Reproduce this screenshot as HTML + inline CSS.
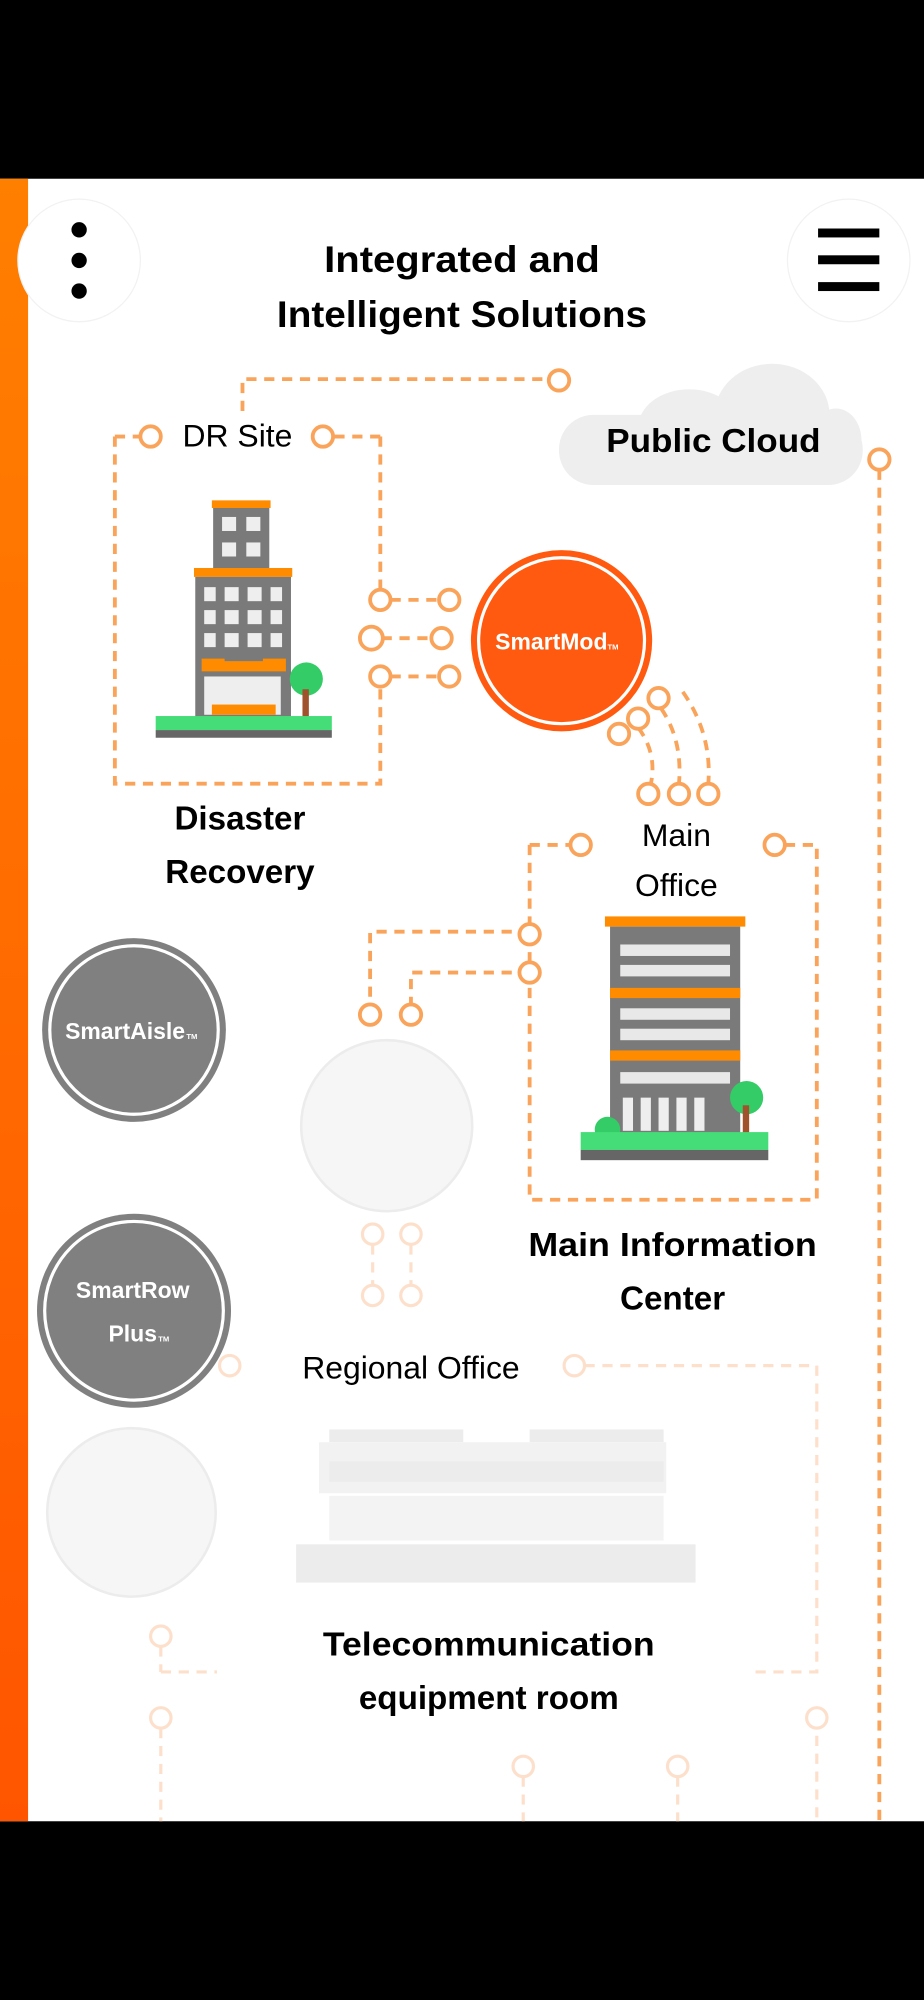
<!DOCTYPE html>
<html><head><meta charset="utf-8"><style>
html,body{margin:0;padding:0;background:#000;}
svg{display:block;}
text{font-family:"Liberation Sans",sans-serif;}
</style></head><body>
<svg width="924" height="2000" viewBox="0 0 724 1567" xmlns="http://www.w3.org/2000/svg">
<defs>
<linearGradient id="og" x1="0" y1="0" x2="0" y2="1"><stop offset="0" stop-color="#ff7f00"/><stop offset="1" stop-color="#ff5500"/></linearGradient>
</defs>
<rect x="0" y="0" width="724" height="1567" fill="#000"/>
<rect x="0" y="140" width="724" height="1287" fill="#fff"/>
<rect x="0" y="140" width="22" height="1287" fill="url(#og)"/>

<circle cx="62" cy="204" r="48" fill="#fff" stroke="#f2f2f2" stroke-width="1"/>
<circle cx="62" cy="180" r="6" fill="#000"/><circle cx="62" cy="204" r="6" fill="#000"/><circle cx="62" cy="228" r="6" fill="#000"/>
<circle cx="665" cy="204" r="48" fill="#fff" stroke="#f2f2f2" stroke-width="1"/>
<rect x="641" y="179" width="48" height="7" fill="#000"/><rect x="641" y="200" width="48" height="7" fill="#000"/><rect x="641" y="221" width="48" height="7" fill="#000"/>
<text x="362" y="213" font-size="29" font-weight="bold" text-anchor="middle" textLength="216" lengthAdjust="spacingAndGlyphs">Integrated and</text>
<text x="362" y="256" font-size="29" font-weight="bold" text-anchor="middle" textLength="290" lengthAdjust="spacingAndGlyphs">Intelligent Solutions</text>

<g fill="#eeeeee">
<ellipse cx="605" cy="325" rx="45" ry="40"/>
<ellipse cx="540" cy="335" rx="40" ry="30"/>
<rect x="438" y="325" width="238" height="55" rx="27"/>
<ellipse cx="655" cy="345" rx="20" ry="25"/>
</g>
<text x="559" y="354" font-size="26" font-weight="bold" text-anchor="middle" textLength="168" lengthAdjust="spacingAndGlyphs">Public Cloud</text>

<g fill="none" stroke="#f9a45a" stroke-width="3" stroke-dasharray="8 6">
<path d="M190 322 V297 H430"/>
<path d="M90 342 H110 M90 342 V614 H298 V536 M298 342 H261 M298 342 V462"/>
<path d="M306 470 H344 M299 500 H338 M306 530 H344"/>
<path d="M689 368 V1427"/>
<path d="M415 662 H447 M415 662 V940 H640 V662 H615"/>
<path d="M415 730 H290 V787 M415 762 H322 V787"/>
<path d="M500 570 Q515 590 510 614 M518 555 Q535 580 532 614 M535 542 Q558 575 555 614"/>
</g>
<g fill="#fff" stroke="#f9a45a" stroke-width="3">
<circle cx="438" cy="298" r="8"/><circle cx="118" cy="342" r="8"/><circle cx="253" cy="342" r="8"/>
<circle cx="298" cy="470" r="8"/><circle cx="291" cy="500" r="9"/><circle cx="298" cy="530" r="8"/>
<circle cx="352" cy="470" r="8"/><circle cx="346" cy="500" r="8"/><circle cx="352" cy="530" r="8"/>
<circle cx="689" cy="360" r="8"/>
<circle cx="455" cy="662" r="8"/><circle cx="607" cy="662" r="8"/>
<circle cx="415" cy="732" r="8"/><circle cx="415" cy="762" r="8"/>
<circle cx="290" cy="795" r="8"/><circle cx="322" cy="795" r="8"/>
<circle cx="516" cy="547" r="8"/><circle cx="500" cy="563" r="8"/><circle cx="485" cy="575" r="8"/>
<circle cx="508" cy="622" r="8"/><circle cx="532" cy="622" r="8"/><circle cx="555" cy="622" r="8"/>
</g>
<text x="143" y="350" font-size="25">DR Site</text>
<text x="530" y="663" font-size="25" text-anchor="middle">Main</text>
<text x="530" y="702" font-size="25" text-anchor="middle">Office</text>

<g>
<rect x="166" y="392" width="46" height="6" fill="#ff8c00"/>
<rect x="167" y="398" width="44" height="50" fill="#7a7a7a"/>
<g fill="#eee"><rect x="174" y="405" width="11" height="11"/><rect x="193" y="405" width="11" height="11"/><rect x="174" y="425" width="11" height="11"/><rect x="193" y="425" width="11" height="11"/></g>
<rect x="152" y="445" width="77" height="7" fill="#ff8c00"/>
<rect x="153" y="452" width="75" height="112" fill="#7a7a7a"/>
<g fill="#eee">
<rect x="160" y="460" width="9" height="11"/><rect x="176" y="460" width="11" height="11"/><rect x="194" y="460" width="11" height="11"/><rect x="212" y="460" width="9" height="11"/>
<rect x="160" y="478" width="9" height="11"/><rect x="176" y="478" width="11" height="11"/><rect x="194" y="478" width="11" height="11"/><rect x="212" y="478" width="9" height="11"/>
<rect x="160" y="496" width="9" height="11"/><rect x="176" y="496" width="11" height="11"/><rect x="194" y="496" width="11" height="11"/><rect x="212" y="496" width="9" height="11"/>
<rect x="160" y="530" width="60" height="30"/>
</g>
<rect x="158" y="516" width="66" height="10" fill="#ff8c00"/>
<rect x="176" y="510" width="30" height="8" fill="#7a7a7a"/>
<rect x="166" y="552" width="50" height="8" fill="#ff8c00"/>
<circle cx="240" cy="532" r="13" fill="#33cc66"/>
<rect x="237" y="540" width="5" height="22" fill="#a0522d"/>
<rect x="122" y="561" width="138" height="11" fill="#44dd77"/>
<rect x="122" y="572" width="138" height="6" fill="#666"/>
</g>
<text x="188" y="650" font-size="26" font-weight="bold" text-anchor="middle">Disaster</text>
<text x="188" y="692" font-size="26" font-weight="bold" text-anchor="middle">Recovery</text>

<circle cx="440" cy="502" r="71" fill="#ff5a10"/>
<circle cx="440" cy="502" r="65" fill="none" stroke="#fff" stroke-width="2.5"/>
<text x="432" y="509" font-size="18" font-weight="bold" fill="#fff" text-anchor="middle">SmartMod</text>
<text x="476" y="509" font-size="6" font-weight="bold" fill="#fff">TM</text>

<g>
<rect x="474" y="718" width="110" height="8" fill="#ff8c00"/>
<rect x="478" y="726" width="102" height="164" fill="#7a7a7a"/>
<g fill="#e8e8e8"><rect x="486" y="740" width="86" height="9"/><rect x="486" y="756" width="86" height="9"/><rect x="486" y="790" width="86" height="9"/><rect x="486" y="806" width="86" height="9"/><rect x="486" y="840" width="86" height="9"/></g>
<rect x="478" y="774" width="102" height="8" fill="#ff8c00"/>
<rect x="478" y="823" width="102" height="8" fill="#ff8c00"/>
<g fill="#eee"><rect x="488" y="860" width="8" height="26"/><rect x="502" y="860" width="8" height="26"/><rect x="516" y="860" width="8" height="26"/><rect x="530" y="860" width="8" height="26"/><rect x="544" y="860" width="8" height="26"/></g>
<circle cx="476" cy="885" r="10" fill="#33cc66"/>
<circle cx="585" cy="860" r="13" fill="#33cc66"/>
<rect x="582" y="866" width="5" height="22" fill="#a0522d"/>
<rect x="455" y="887" width="147" height="14" fill="#44dd77"/>
<rect x="455" y="901" width="147" height="8" fill="#666"/>
</g>
<text x="527" y="984" font-size="26" font-weight="bold" text-anchor="middle" textLength="226" lengthAdjust="spacingAndGlyphs">Main Information</text>
<text x="527" y="1026" font-size="26" font-weight="bold" text-anchor="middle">Center</text>

<circle cx="105" cy="807" r="72" fill="#808080"/>
<circle cx="105" cy="807" r="66" fill="none" stroke="#fff" stroke-width="2.5"/>
<text x="98" y="814" font-size="18" font-weight="bold" fill="#fff" text-anchor="middle">SmartAisle</text>
<text x="146" y="814" font-size="6" font-weight="bold" fill="#fff">TM</text>
<circle cx="105" cy="1027" r="76" fill="#808080"/>
<circle cx="105" cy="1027" r="70" fill="none" stroke="#fff" stroke-width="2.5"/>
<text x="104" y="1017" font-size="18" font-weight="bold" fill="#fff" text-anchor="middle">SmartRow</text>
<text x="104" y="1051" font-size="18" font-weight="bold" fill="#fff" text-anchor="middle">Plus</text>
<text x="124" y="1051" font-size="6" font-weight="bold" fill="#fff">TM</text>

<circle cx="303" cy="882" r="67" fill="#f6f6f6" stroke="#ececec" stroke-width="2"/>
<circle cx="103" cy="1185" r="66" fill="#f6f6f6" stroke="#ececec" stroke-width="2"/>
<g fill="none" stroke="#fde0cc" stroke-width="2.5" stroke-dasharray="8 6">
<path d="M292 975 V1007 M322 975 V1007"/>
<path d="M458 1070 H640 V1310 H590"/>
<path d="M126 1310 H170 M126 1290 V1310"/>
<path d="M126 1354 V1427 M410 1392 V1427 M531 1392 V1427 M640 1360 V1427"/>
</g>
<g fill="#fff" stroke="#fde0cc" stroke-width="2.5">
<circle cx="292" cy="967" r="8"/><circle cx="322" cy="967" r="8"/><circle cx="292" cy="1015" r="8"/><circle cx="322" cy="1015" r="8"/>
<circle cx="450" cy="1070" r="8"/><circle cx="180" cy="1070" r="8"/>
<circle cx="126" cy="1282" r="8"/><circle cx="126" cy="1346" r="8"/><circle cx="410" cy="1384" r="8"/><circle cx="531" cy="1384" r="8"/><circle cx="640" cy="1346" r="8"/>
</g>
<g fill="#ececec">
<rect x="258" y="1120" width="105" height="10"/><rect x="415" y="1120" width="105" height="10"/>
<rect x="250" y="1130" width="272" height="40" fill="#f2f2f2"/>
<rect x="258" y="1145" width="262" height="16"/>
<rect x="258" y="1172" width="262" height="35" fill="#f3f3f3"/>
<rect x="232" y="1210" width="313" height="30"/>
</g>
<text x="322" y="1080" font-size="25" text-anchor="middle">Regional Office</text>
<text x="383" y="1297" font-size="26" font-weight="bold" text-anchor="middle" textLength="260" lengthAdjust="spacingAndGlyphs">Telecommunication</text>
<text x="383" y="1339" font-size="26" font-weight="bold" text-anchor="middle">equipment room</text>
</svg>
</body></html>
